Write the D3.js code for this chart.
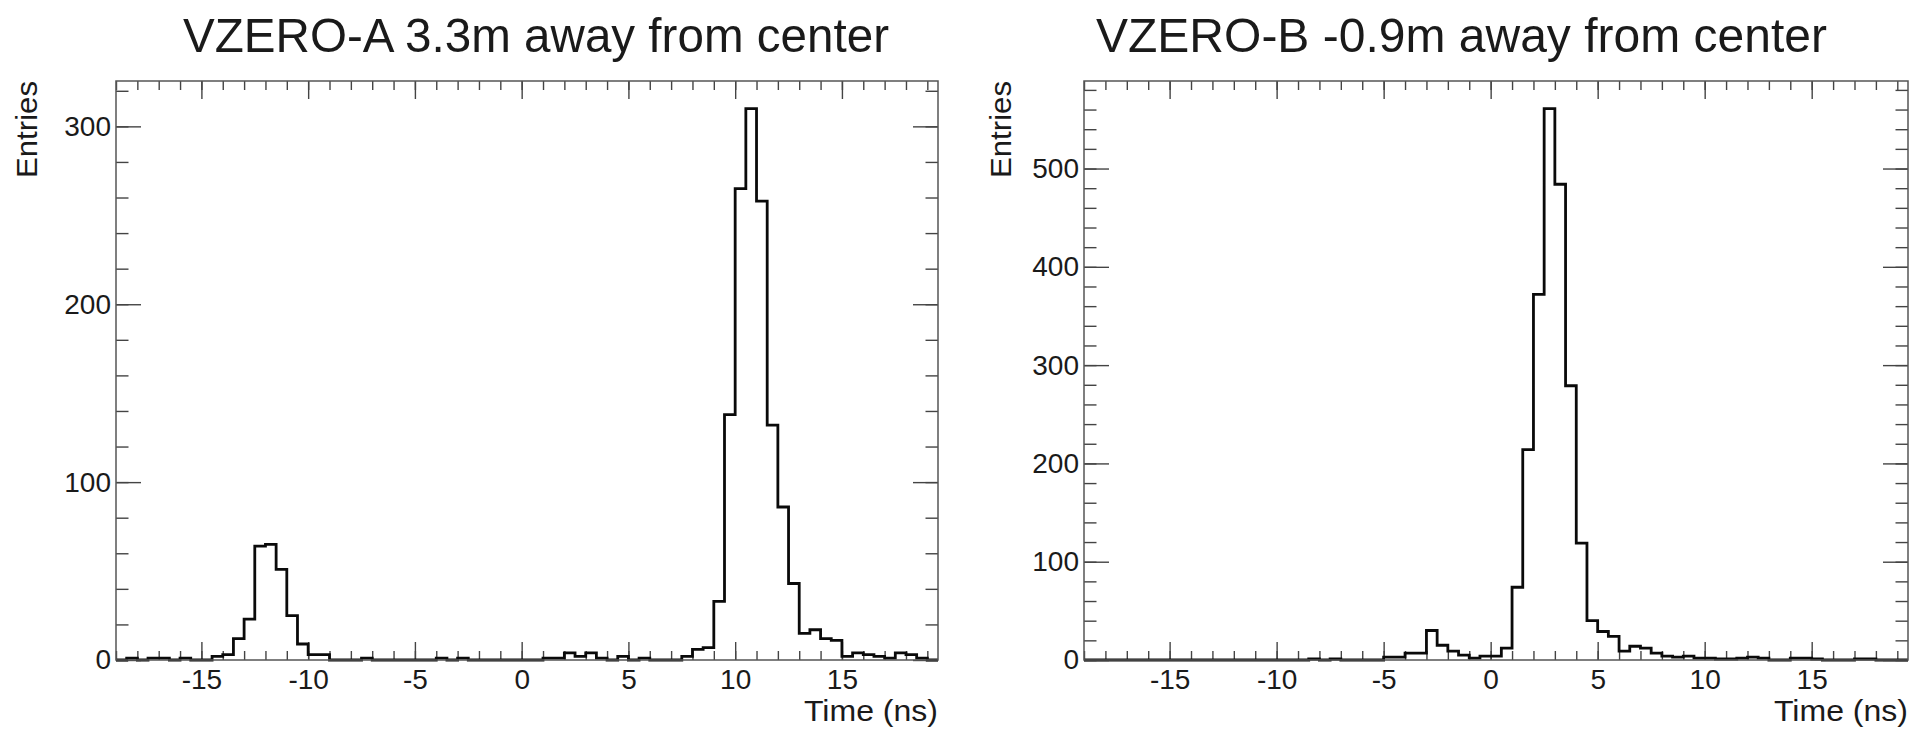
<!DOCTYPE html>
<html>
<head>
<meta charset="utf-8">
<script src="https://cdn.jsdelivr.net/npm/d3@7"></script>
<style>
  body { margin: 0; background: #fff; }
  svg text { font-family: "Liberation Sans", Arial, Helvetica, sans-serif; fill: #1a1a1a; }
  svg text.title { font-family: "Liberation Sans Narrow", "Arial Narrow", "Liberation Sans", Arial, sans-serif; }
</style>
</head>
<body>
<div id="chart"></div>
<script>
// histogram bins: 0.5 ns wide, starting at -19 ns
var binLow = -19, binWidth = 0.5;

var countsA = [
    0, 1, 0, 1, 1, 0, 1, 0, 0, 2,
    3, 12, 23, 64, 65, 51, 25, 9, 3, 3,
    0, 0, 0, 1, 0, 0, 0, 0, 0, 0,
    1, 0, 1, 0, 0, 0, 0, 0, 0, 0,
    1, 1, 4, 2, 4, 1, 0, 2, 0, 1,
    0, 0, 0, 2, 6, 7, 33, 138, 265, 310,
    258, 132, 86, 43, 15, 17, 12, 11, 2, 4,
    3, 2, 1, 4, 3, 1, 0
]

var countsB = [
    0, 0, 0, 0, 0, 0, 0, 0, 0, 0,
    0, 0, 0, 0, 0, 0, 0, 0, 0, 0,
    0, 1, 0, 1, 0, 0, 0, 0, 3, 3,
    7, 7, 30, 15, 9, 5, 2, 4, 4, 12,
    74, 214, 372, 561, 484, 279, 119, 40, 29, 24,
    9, 14, 12, 7, 4, 3, 4, 2, 2, 1,
    1, 2, 3, 2, 0, 0, 2, 2, 1, 0,
    0, 0, 1, 1, 0, 0, 0
]

var xTickLabels = [-15, -10, -5, 0, 5, 10, 15]
var yTicksA = [0, 100, 200, 300]
var yTicksB = [0, 100, 200, 300, 400, 500]

var titleA = "VZERO-A 3.3m away from center"
var titleB = "VZERO-B -0.9m away from center"
var xTitle = "Time (ns)"
var yTitle = "Entries"

var width = 1910,
    height = 730;

var svg = d3.select("#chart").append("svg")
    .attr("width", width)
    .attr("height", height)

// plain hyphen for negatives, like the original
var fmt = function(d) { return String(d) }

function panel(opts) {
    var left = opts.left, right = opts.right, top = 81, bottom = 660;
    var g = svg.append("g")

    var x = d3.scaleLinear()
        .domain([binLow, binLow + binWidth * opts.counts.length])
        .range([left, right])
    var ymax = d3.max(opts.counts) * 1.05
    var y = d3.scaleLinear().domain([0, ymax]).range([bottom, top])

    var minorX = d3.range(-19, 20, 1)
    var minorY = d3.range(0, ymax, 20)

    // minor ticks
    g.append("g").attr("transform", "translate(0," + bottom + ")")
        .call(d3.axisBottom(x).tickValues(minorX).tickSize(-9).tickSizeOuter(0).tickFormat(""))
    g.append("g").attr("transform", "translate(0," + top + ")")
        .call(d3.axisTop(x).tickValues(minorX).tickSize(-9).tickSizeOuter(0).tickFormat(""))
    g.append("g").attr("transform", "translate(" + left + ",0)")
        .call(d3.axisLeft(y).tickValues(minorY).tickSize(-12.5).tickSizeOuter(0).tickFormat(""))
    g.append("g").attr("transform", "translate(" + right + ",0)")
        .call(d3.axisRight(y).tickValues(minorY).tickSize(-12.5).tickSizeOuter(0).tickFormat(""))

    // major ticks + labels
    g.append("g").attr("transform", "translate(0," + bottom + ")")
        .call(d3.axisBottom(x).tickValues(xTickLabels).tickSize(-18).tickSizeOuter(0).tickPadding(9).tickFormat(fmt))
    g.append("g").attr("transform", "translate(0," + top + ")")
        .call(d3.axisTop(x).tickValues(xTickLabels).tickSize(-18).tickSizeOuter(0).tickFormat(""))
    g.append("g").attr("transform", "translate(" + left + ",0)")
        .call(d3.axisLeft(y).tickValues(opts.yTicks).tickSize(-25).tickSizeOuter(0).tickPadding(5).tickFormat(fmt))
    g.append("g").attr("transform", "translate(" + right + ",0)")
        .call(d3.axisRight(y).tickValues(opts.yTicks).tickSize(-25).tickSizeOuter(0).tickFormat(""))

    g.selectAll(".domain").remove()
    g.selectAll(".tick line").attr("stroke", "#444").attr("stroke-width", 1.4)
    g.selectAll(".tick text").style("font-size", "28px").attr("fill", "#1a1a1a")

    // histogram outline
    var pts = []
    opts.counts.forEach(function(c, i) {
        pts.push([binLow + i * binWidth, c])
        pts.push([binLow + (i + 1) * binWidth, c])
    })
    var line = d3.line()
        .x(function(d) { return x(d[0]) })
        .y(function(d) { return y(d[1]) })
    g.append("path")
        .attr("d", line(pts))
        .attr("fill", "none")
        .attr("stroke", "#0a0a0a")
        .attr("stroke-width", 2.8)
        .attr("stroke-linejoin", "miter")

    // frame
    g.append("rect")
        .attr("x", left).attr("y", top)
        .attr("width", right - left).attr("height", bottom - top)
        .attr("fill", "none")
        .attr("stroke", "#555")
        .attr("stroke-width", 1.5)

    g.append("text")
        .attr("class", "title")
        .attr("x", opts.titleX).attr("y", 52)
        .attr("textLength", opts.titleLen)
        .attr("lengthAdjust", "spacingAndGlyphs")
        .style("font-size", "49px")
        .text(opts.title)

    g.append("text")
        .attr("x", right).attr("y", 721)
        .attr("text-anchor", "end")
        .attr("textLength", 134)
        .attr("lengthAdjust", "spacingAndGlyphs")
        .style("font-size", "30px")
        .text(xTitle)

    g.append("text")
        .attr("transform", "translate(" + opts.yTitleX + "," + top + ") rotate(-90)")
        .attr("text-anchor", "end")
        .attr("textLength", 97)
        .attr("lengthAdjust", "spacingAndGlyphs")
        .style("font-size", "30px")
        .text(yTitle)
}

panel({ left: 116, right: 938, counts: countsA, yTicks: yTicksA,
        title: titleA, titleX: 183, titleLen: 706, yTitleX: 37 })
panel({ left: 1084, right: 1908, counts: countsB, yTicks: yTicksB,
        title: titleB, titleX: 1096, titleLen: 731, yTitleX: 1011 })
</script>
</body>
</html>
